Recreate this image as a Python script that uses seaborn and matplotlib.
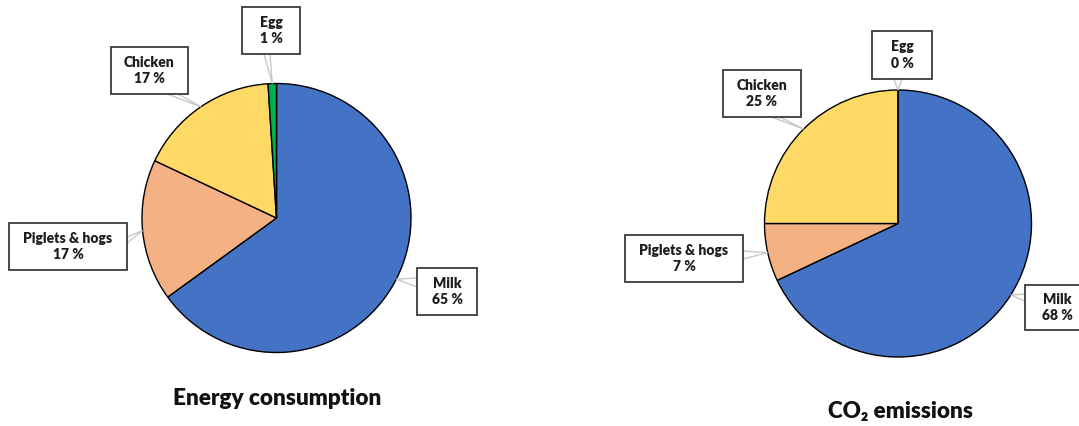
import matplotlib
matplotlib.use("Agg")
import matplotlib.pyplot as plt
from matplotlib.patches import Rectangle
import numpy as np
import seaborn as sns

# Shares per product (percent), in drawing order starting at 12 o'clock, clockwise
categories = ["Milk", "Piglets & hogs", "Chicken", "Egg"]
energy_share = [65, 17, 17, 1]
co2_share = [68, 7, 25, 0]
panel_titles = ["Energy consumption", "CO\u2082 emissions"]

palette = ["#4472C4", "#F4B183", "#FFD966", "#00B050"]

sns.set_theme(style="white")
plt.rcParams["font.family"] = ["Lato", "DejaVu Sans"]

W, H = 1079, 426
fig = plt.figure(figsize=(W / 100, H / 100), dpi=100)
ax = fig.add_axes([0, 0, 1, 1])


def flip(y):
    return H - y


# Layout: pie centre/radius, title anchor, and per-slice callout boxes
# box = (x0, y0, x1, y1) in top-down pixel coords; anchors = two points on the box edge
panels = [
    dict(values=energy_share, center=(276.5, 218), radius=134.5, title_xy=(277, 405),
         boxes=[(417, 268, 477, 315), (9, 223, 127, 270), (111, 47, 188, 94), (242, 7, 300, 54)],
         anchors=[[(417, 278), (417, 287)], [(127, 237), (127, 243)],
                  [(167, 94), (178, 94)], [(264, 54), (270, 54)]]),
    dict(values=co2_share, center=(898, 223.5), radius=133.5, title_xy=(900, 418),
         boxes=[(1025, 285, 1090, 330), (625, 235, 743, 282), (723, 70, 801, 117), (872, 31, 932, 79)],
         anchors=[[(1025, 294), (1025, 301)], [(743, 251), (743, 259)],
                  [(772, 117), (780, 117)], [(894, 79), (902, 79)]]),
]

for p, title in zip(panels, panel_titles):
    cx, cy = p["center"]
    r = p["radius"]
    wedges, _ = ax.pie(
        p["values"], colors=palette, startangle=90, counterclock=False,
        center=(cx, flip(cy)), radius=r,
        wedgeprops=dict(edgecolor="black", linewidth=1.0),
    )
    for w, name, val, box, anc in zip(wedges, categories, p["values"], p["boxes"], p["anchors"]):
        mid = np.deg2rad((w.theta1 + w.theta2) / 2)
        px, py = cx + r * np.cos(mid), flip(cy) + r * np.sin(mid)
        (ax1, ay1), (ax2, ay2) = anc
        ax.plot([ax1, px, ax2], [flip(ay1), py, flip(ay2)], color="#c8c8c8",
                linewidth=1.0, zorder=3, solid_joinstyle="miter")
        x0, y0, x1, y1 = box
        ax.add_patch(Rectangle((x0, flip(y1)), x1 - x0, y1 - y0, facecolor="white",
                               edgecolor="#3a3a3a", linewidth=1.3, zorder=4))
        ax.text((x0 + x1) / 2, flip((y0 + y1) / 2), f"{name}\n{val} %", ha="center",
                va="center", fontsize=10, fontweight="heavy", color="#1e1e1e",
                linespacing=1.3, zorder=5)
    tx, ty = p["title_xy"]
    ax.text(tx, flip(ty), title, ha="center", va="baseline", fontsize=16.2,
            fontweight="heavy", color="#111111")

ax.set_xlim(0, W)
ax.set_ylim(0, H)
ax.set_aspect("equal")
ax.axis("off")

fig.savefig("out.png", dpi=100, facecolor="white")
